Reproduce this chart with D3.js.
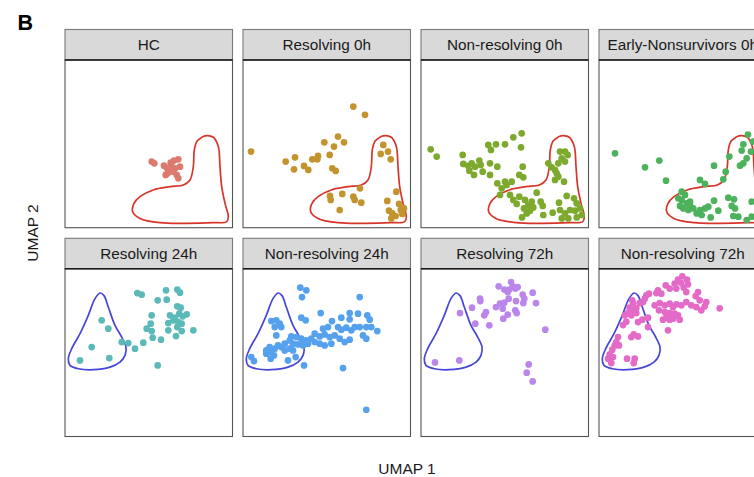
<!DOCTYPE html>
<html><head><meta charset="utf-8">
<script src="https://cdn.jsdelivr.net/npm/d3@7"></script>
<style>body{margin:0;background:#fff}svg{display:block}</style>
</head><body>
<svg id="c" width="754" height="477"></svg>
<script>
const panels = ["HC","Resolving 0h","Non-resolving 0h","Early-Nonsurvivors 0h","Resolving 24h","Non-resolving 24h","Resolving 72h","Non-resolving 72h"];
const colors = ["#DC7A6E","#C39330","#7DAA2E","#4DB25C","#5CB9B9","#55A1EE","#BA86EC","#E46AC8"];
const xDomain = [0, 16.75];
const yDomain = [0, 16.75];

const ptsHC = [[8.67,6.6],[8.93,6.43],[9.9,6.2],[10.17,6.0],[10.57,6.5],[10.9,6.7],[11.33,6.83],[11.5,6.1],[10.83,5.6],[11.17,5.27],[11.33,4.93],[10.07,5.27],[10.43,5.77],[10.67,6.1],[10.27,5.43],[11.0,5.93]];
const ptsR0 = [[11.03,12.1],[12.2,11.27],[0.8,7.6],[4.27,6.6],[5.2,7.03],[5.1,5.83],[6.1,6.17],[6.53,5.77],[6.93,6.83],[7.5,7.17],[7.43,6.83],[8.13,8.53],[8.67,7.27],[9.1,8.1],[9.5,9.1],[10.1,8.53],[8.93,5.93],[9.27,5.67],[14.03,8.27],[13.77,7.37],[14.5,7.6],[14.77,6.83],[11.7,3.93],[8.7,3.17],[8.77,2.77],[9.93,3.37],[11.03,3.1],[11.17,2.77],[11.83,2.5],[9.67,1.77],[15.33,3.6],[14.43,2.67],[14.6,1.7],[14.93,1.43],[15.6,2.37],[15.77,1.77],[15.93,1.37],[15.27,1.17],[14.83,0.93],[16.1,1.93]];
const ptsNR0 = [[0.97,7.83],[1.57,7.1],[4.17,7.27],[4.23,6.37],[4.73,6.17],[5.07,6.43],[5.4,6.1],[4.83,5.7],[5.3,5.27],[5.83,6.7],[5.97,6.27],[6.17,5.6],[6.9,6.43],[6.9,5.27],[7.63,6.1],[6.73,8.27],[7.0,7.77],[7.5,8.33],[8.4,8.33],[9.23,9.03],[10.07,9.43],[10.0,8.03],[10.17,6.1],[9.83,5.27],[10.23,5.03],[7.63,4.43],[8.4,4.6],[9.07,4.6],[8.07,3.93],[8.57,4.27],[7.9,3.27],[8.9,3.27],[9.23,2.77],[9.57,2.37],[9.83,3.1],[10.4,2.77],[10.73,2.27],[11.07,2.6],[10.3,1.93],[10.9,1.7],[11.23,2.03],[11.57,3.5],[11.97,2.6],[12.17,2.17],[10.57,1.43],[10.1,1.03],[12.23,1.27],[13.17,1.5],[13.8,2.5],[14.57,3.17],[15.3,2.93],[15.57,2.43],[15.9,1.93],[13.9,1.77],[14.4,1.43],[14.9,1.77],[15.4,1.7],[16.07,1.27],[14.07,0.93],[14.73,0.93],[15.57,1.03],[12.73,6.43],[13.07,6.03],[13.4,5.77],[13.73,6.43],[13.9,7.6],[14.4,7.6],[14.67,7.27],[14.07,6.93],[14.4,6.6],[13.57,5.43],[13.73,5.1],[13.4,4.77],[14.3,4.6]];
const ptsEN0 = [[1.6,7.43],[4.6,6.03],[6.03,6.7],[6.7,4.7],[10.1,4.77],[10.6,4.37],[11.5,6.2],[12.43,4.83],[12.67,5.6],[13.03,7.1],[14.27,7.7],[14.43,8.33],[14.77,6.93],[14.43,6.43],[14.1,6.2],[8.6,3.27],[8.27,2.77],[8.1,2.17],[8.43,1.93],[8.77,2.43],[9.1,2.6],[8.93,1.77],[9.43,1.93],[9.77,1.43],[9.1,2.27],[10.1,1.77],[10.27,1.27],[10.6,1.93],[10.93,2.1],[11.17,1.03],[11.5,2.7],[11.93,1.7],[12.93,3.0],[13.5,2.83],[13.27,2.17],[13.6,1.93],[13.43,1.17],[13.93,1.1],[15.27,2.6],[14.77,0.77],[15.27,1.1],[8.27,3.6],[7.93,2.93],[14.9,9.3],[15.4,8.6],[15.2,7.6]];
const ptsR24 = [[7.23,14.33],[7.67,14.17],[10.1,14.6],[11.23,14.67],[11.5,14.37],[9.27,13.6],[10.17,13.67],[11.23,13.0],[11.57,12.87],[8.67,12.1],[10.5,12.1],[11.0,11.87],[11.43,12.27],[11.77,12.0],[12.17,12.2],[10.33,11.33],[10.83,11.6],[11.33,11.43],[11.67,11.27],[8.57,11.27],[8.17,10.77],[8.67,10.53],[8.77,9.87],[9.6,9.67],[10.33,10.6],[11.23,10.93],[11.67,10.53],[11.1,10.03],[12.83,10.6],[7.83,9.37],[7.0,8.77],[6.33,9.33],[5.67,9.43],[4.33,10.77],[3.67,11.6],[2.67,8.93],[1.5,7.6],[4.43,7.83],[9.27,7.1]];
const ptsNR24 = [[5.73,14.87],[6.33,14.6],[5.9,13.93],[11.67,13.93],[7.77,12.33],[5.83,11.87],[6.27,11.6],[2.83,11.53],[3.33,11.6],[3.67,11.27],[3.83,10.93],[3.17,10.93],[3.33,10.1],[8.9,11.53],[9.83,11.87],[10.67,12.33],[11.5,12.27],[12.43,12.1],[12.67,11.67],[10.67,11.7],[11.67,10.93],[12.33,10.93],[12.83,10.93],[13.43,10.53],[8.0,10.77],[8.5,10.93],[9.5,10.93],[9.83,10.67],[10.33,10.87],[10.83,10.6],[11.17,10.93],[12.0,10.1],[12.33,9.77],[7.17,10.27],[7.67,10.0],[8.17,10.2],[8.67,9.93],[9.17,10.1],[9.67,9.77],[10.17,9.43],[10.67,9.67],[6.83,9.77],[6.33,9.6],[5.83,9.77],[5.33,9.93],[4.83,10.0],[4.67,9.6],[5.0,9.27],[5.5,9.2],[6.0,9.1],[6.5,9.27],[7.17,9.43],[7.67,9.27],[8.17,9.1],[8.83,9.27],[4.17,9.27],[3.83,8.93],[3.5,9.1],[3.17,8.77],[2.67,8.93],[2.33,8.6],[2.83,8.43],[4.17,8.6],[4.67,8.77],[5.0,8.6],[2.33,8.27],[3.1,8.1],[2.77,7.77],[0.83,7.93],[1.1,7.53],[4.5,7.6],[5.27,7.93],[6.1,7.1],[10.0,6.83],[12.33,2.67]];
const ptsR72 = [[7.77,15.0],[8.33,14.67],[8.67,14.43],[9.0,15.43],[9.17,15.0],[9.43,14.77],[9.67,14.93],[8.83,14.67],[11.17,14.37],[10.17,14.17],[10.33,13.77],[10.23,13.33],[11.5,13.33],[5.9,13.77],[5.93,13.53],[5.1,12.87],[3.9,12.33],[6.5,12.43],[6.33,12.1],[5.43,11.27],[6.83,11.1],[7.5,12.93],[7.9,13.27],[8.33,13.37],[8.17,12.77],[8.77,13.77],[9.5,13.53],[9.43,12.6],[9.57,12.33],[8.67,12.17],[8.23,11.77],[12.43,10.67],[10.77,7.2],[10.57,6.37],[11.17,5.5],[3.83,7.6],[1.4,7.4]];
const ptsNR72 = [[8.33,16.0],[8.8,15.67],[7.9,15.67],[7.57,15.27],[8.23,15.33],[8.9,15.2],[8.47,14.87],[7.73,14.77],[7.07,14.77],[6.67,15.1],[5.9,14.6],[6.23,14.27],[5.73,14.33],[8.73,14.43],[9.9,14.43],[9.67,14.03],[10.07,13.6],[10.73,13.43],[10.57,13.0],[10.23,12.6],[9.73,12.93],[9.23,13.1],[8.73,13.43],[8.23,13.1],[7.73,13.2],[7.4,12.93],[7.07,13.27],[6.57,13.1],[6.07,13.33],[5.57,13.1],[5.0,14.27],[4.73,14.1],[4.57,13.77],[4.4,13.43],[4.07,13.33],[6.0,12.6],[6.57,12.43],[7.07,12.33],[7.57,12.27],[7.9,12.1],[7.4,11.77],[8.07,11.67],[6.4,11.67],[7.07,11.67],[6.73,11.87],[12.07,12.8],[3.33,13.6],[3.4,13.3],[3.07,12.87],[3.73,12.8],[3.4,12.6],[2.9,12.33],[2.57,12.1],[3.23,12.1],[3.73,12.33],[3.9,11.43],[4.33,11.67],[4.9,11.87],[2.73,11.47],[2.4,11.13],[4.9,10.93],[6.9,10.6],[3.47,10.2],[3.9,10.0],[3.23,9.93],[1.9,9.93],[1.73,9.43],[1.57,9.1],[1.33,8.67],[2.0,9.1],[1.07,8.2],[1.4,7.93],[0.9,7.77],[1.23,7.33],[2.8,7.77],[3.57,7.77],[3.47,7.33]];
const points = [ptsHC, ptsR0, ptsNR0, ptsEN0, ptsR24, ptsNR24, ptsR72, ptsNR72];

const contourHC = [[13.33,8.77],[14.0,9.17],[14.83,9.03],[15.33,8.1],[15.5,6.1],[15.67,4.1],[16.0,2.43],[16.33,1.1],[16.17,0.6],[14.83,0.5],[12.17,0.43],[9.5,0.5],[7.5,0.93],[6.77,1.6],[6.9,2.43],[7.5,3.1],[8.83,3.77],[10.5,4.1],[11.83,4.27],[12.5,4.77],[12.83,6.1],[12.93,7.77],[13.17,8.6]];
const contourLate = [[3.5,14.33],[3.9,14.07],[4.33,12.93],[5.0,11.1],[5.67,9.93],[6.1,8.93],[6.0,8.1],[5.5,7.43],[4.5,6.93],[2.83,6.67],[1.33,6.77],[0.5,7.1],[0.33,7.77],[0.67,8.77],[1.5,10.27],[2.33,12.1],[3.0,13.77]];
const contourColors = ["#D8352A","#4646D8"];

const svg = d3.select("#c");
const colStep = 178, rowStep = 208.8, pw = 167.5, ph = 167.7, stripH = 30.5;
const left0 = 65, top0 = 29.5;
const FONT = "Liberation Sans, Arial, sans-serif";

svg.append("text").attr("x", 17.5).attr("y", 29.5).attr("font-family", FONT)
  .attr("font-weight","bold").attr("font-size", 21.5).attr("fill","#000").text("B");

const line = d3.line().curve(d3.curveCatmullRomClosed.alpha(0.5));

panels.forEach((name, i) => {
  const col = i % 4, row = Math.floor(i / 4);
  const x0 = left0 + col * colStep, y0 = top0 + row * rowStep;
  const g = svg.append("g").attr("transform", `translate(${x0},${y0})`);
  g.append("rect").attr("x",0).attr("y",0).attr("width",pw).attr("height",stripH)
    .attr("fill","#D9D9D9").attr("stroke","#7A7A7A").attr("stroke-width",1.1);
  g.append("text").attr("x", pw/2).attr("y", 20.5).attr("text-anchor","middle")
    .attr("font-family", FONT).attr("font-size", 15.3).attr("fill","#1A1A1A").text(name);
  const pg = g.append("g").attr("transform", `translate(0,${stripH})`);
  const x = d3.scaleLinear().domain(xDomain).range([0, pw]);
  const y = d3.scaleLinear().domain(yDomain).range([ph, 0]);
  const cid = "clip" + i;
  pg.append("clipPath").attr("id", cid).append("rect").attr("width", pw).attr("height", ph);
  pg.append("rect").attr("width", pw).attr("height", ph).attr("fill","#fff");
  const inner = pg.append("g").attr("clip-path", `url(#${cid})`);
  const contour = row === 0 ? contourHC : contourLate;
  inner.append("path").attr("d", line(contour.map(d => [x(d[0]), y(d[1])])))
    .attr("fill","none").attr("stroke", contourColors[row]).attr("stroke-width", 1.7);
  inner.selectAll("circle").data(points[i]).join("circle")
    .attr("cx", d => x(d[0])).attr("cy", d => y(d[1])).attr("r", 3.35)
    .attr("fill", colors[i]);
  pg.append("rect").attr("width", pw).attr("height", ph).attr("fill","none")
    .attr("stroke","#555").attr("stroke-width",1.1);
  pg.append("line").attr("x1",0).attr("x2",pw).attr("y1",0).attr("y2",0).attr("stroke","#1A1A1A").attr("stroke-width",1.6);
});

svg.append("text").attr("x", 407).attr("y", 474).attr("text-anchor","middle")
  .attr("font-family", FONT).attr("font-size", 15.5).attr("fill","#1A1A1A").text("UMAP 1");
svg.append("text").attr("transform","translate(38,233) rotate(-90)").attr("text-anchor","middle")
  .attr("font-family", FONT).attr("font-size", 15.5).attr("fill","#1A1A1A").text("UMAP 2");
</script>
</body></html>
